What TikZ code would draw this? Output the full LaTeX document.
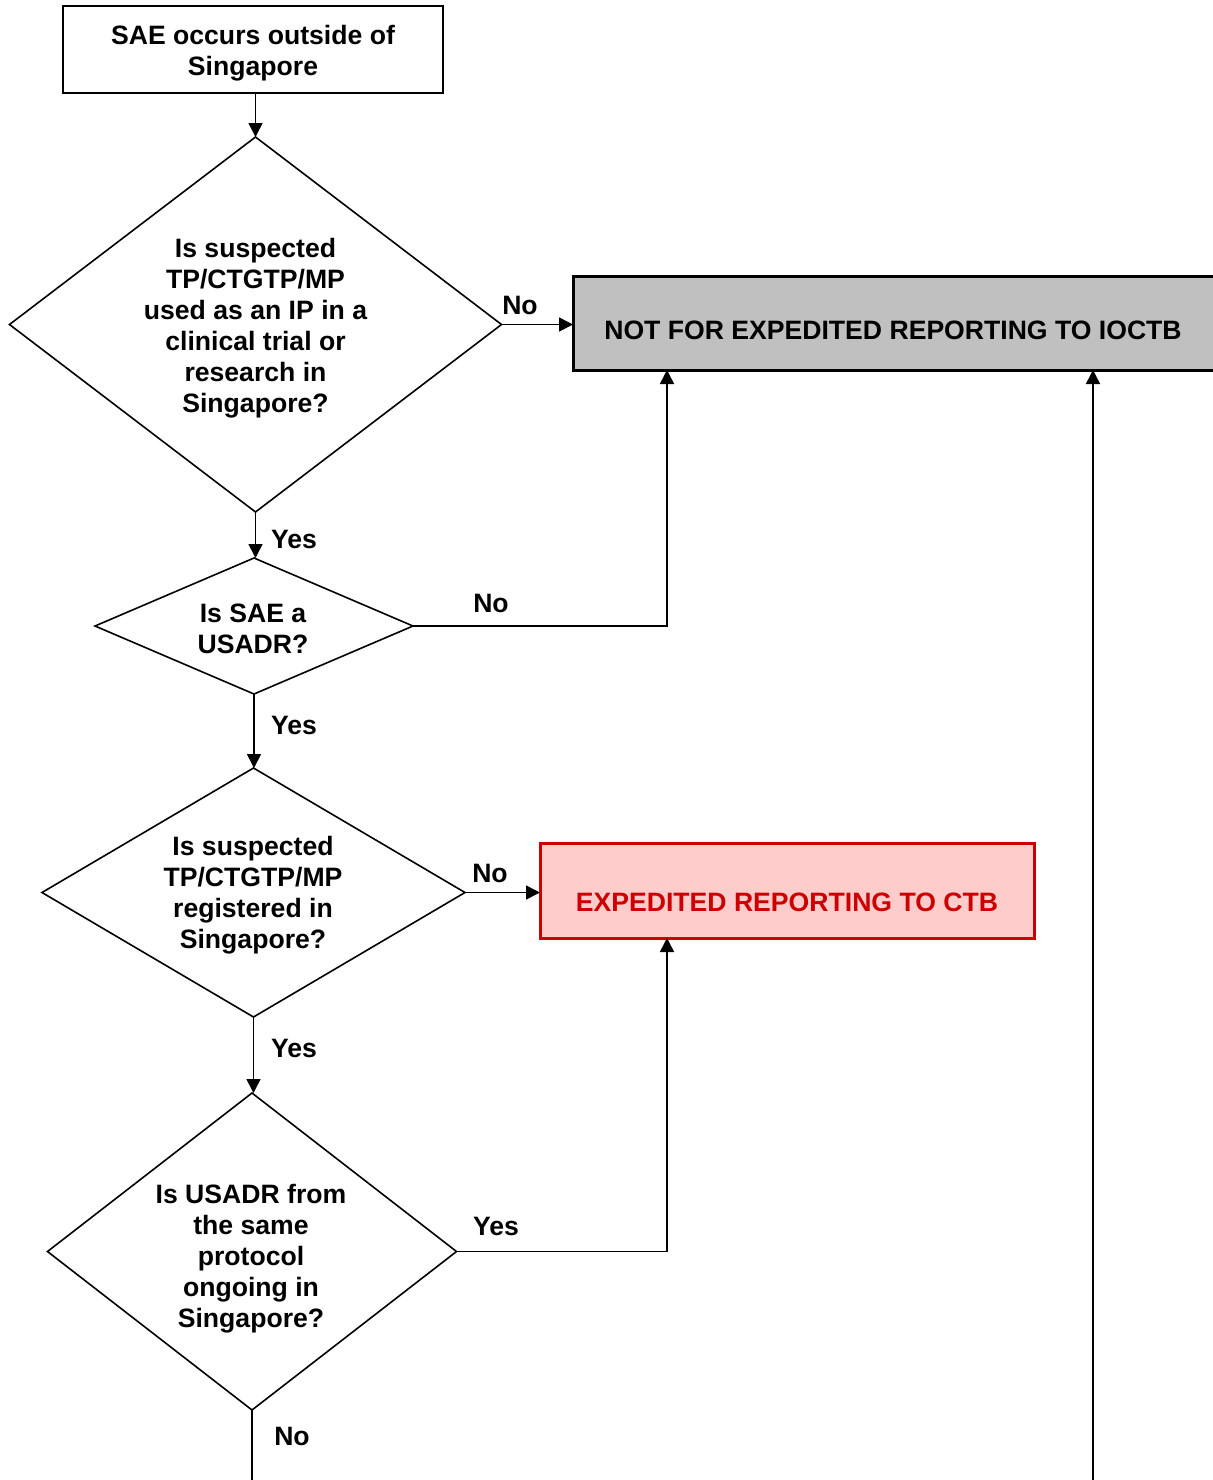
\documentclass[tikz,border=0pt]{standalone}
\usepackage{fontspec}
\setmainfont{Liberation Sans}
\usetikzlibrary{shapes.geometric,arrows.meta}
\definecolor{greyfill}{HTML}{C0C0C0}
\definecolor{redfill}{HTML}{FFCCCC}
\definecolor{redline}{HTML}{CC0000}
\begin{document}
\begin{tikzpicture}[x=0.5pt,y=-0.5pt,
  every node/.style={font=\fontsize{13.3}{15.5}\selectfont\bfseries},
  conn/.style={line width=0.8pt},
  arr/.style={conn,-{Triangle[length=7pt,width=7pt]}},
  dia/.style={draw,line width=0.8pt,diamond,inner sep=0pt,outer sep=0pt},
  txt/.style={align=center,inner sep=0pt},
  lbl/.style={inner sep=0pt},
  startbox/.style={draw,line width=0.8pt,outer sep=0pt,inner sep=0pt,minimum width=190pt,minimum height=43.5pt},
]
\useasboundingbox (0,0) rectangle (1213,1480);

% start box
\node[startbox] (b1) at (253,49.5) {};
\node[txt] (b1t) at (253,53) {SAE occurs outside of\\Singapore};

% diamonds
\node[dia,minimum width=246pt,minimum height=187.5pt] (d1) at (255.5,324.5) {};
\node[txt] (d1t) at (255.5,328) {Is suspected\\TP/CTGTP/MP\\used as an IP in a\\clinical trial or\\research in\\Singapore?};

\node[dia,minimum width=159pt,minimum height=68pt] (d2) at (254,626) {};
\node[txt] (d2t) at (253,629) {Is SAE a\\USADR?};

\node[dia,minimum width=211.5pt,minimum height=124.5pt] (d3) at (253.5,892.5) {};
\node[txt] (d3t) at (253,895) {Is suspected\\TP/CTGTP/MP\\registered in\\Singapore?};

\node[dia,minimum width=204.5pt,minimum height=158.5pt] (d4) at (252,1251.5) {};
\node[txt] (d4t) at (251,1258.5) {Is USADR from\\the same\\protocol\\ongoing in\\Singapore?};

% outcome boxes
\node[draw,line width=1.5pt,fill=greyfill,outer sep=0pt,inner sep=0pt,minimum width=321.5pt,minimum height=47pt] (grey) at (894.5,323) {};
\node[txt] (greyt) at (893,330) {NOT FOR EXPEDITED REPORTING TO IOCTB};

\node[draw=redline,line width=1.5pt,fill=redfill,outer sep=0pt,inner sep=0pt,minimum width=247pt,minimum height=47.5pt] (red) at (787,890.5) {};
\node[txt,text=redline] (redt) at (787,902) {EXPEDITED REPORTING TO CTB};

% helper coordinates
\coordinate (g1) at (667,370);
\coordinate (g2) at (1093,370);
\coordinate (r1) at (667,938);
\coordinate (bot1) at (252,1482);
\coordinate (bot2) at (1093,1482);

% connectors
\draw[arr] (d1.north |- b1.south) -- (d1.north);
\draw[arr] (d1.east) -- (d1.east -| grey.west);
\draw[arr] (d1.south) -- (d1.south |- d2.north);
\draw[arr] (d2.east) -| (g1);
\draw[arr] (d2.south) -- (d2.south |- d3.north);
\draw[arr] (d3.east) -- (d3.east -| red.west);
\draw[arr] (d3.south) -- (d3.south |- d4.north);
\draw[arr] (d4.east) -| (r1);
\draw[conn] (d4.south) -- (bot1);
\draw[arr] (bot2) -- (g2);

% labels
\node[lbl] (l1) at (520,305) {No};
\node[lbl] (l2) at (294,539) {Yes};
\node[lbl] (l3) at (491,603) {No};
\node[lbl] (l4) at (294,725) {Yes};
\node[lbl] (l5) at (490,873) {No};
\node[lbl] (l6) at (294,1048) {Yes};
\node[lbl] (l7) at (496,1226) {Yes};
\node[lbl] (l8) at (292,1436) {No};
\end{tikzpicture}
\end{document}
